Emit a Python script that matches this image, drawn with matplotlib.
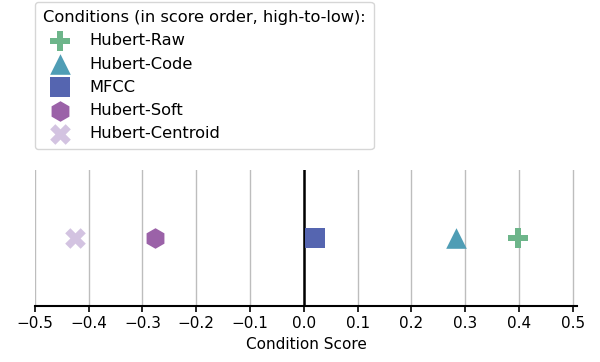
import matplotlib
matplotlib.use("Agg")
import matplotlib.pyplot as plt

# Conditions in score order, high-to-low
conditions = ["Hubert-Raw", "Hubert-Code", "MFCC", "Hubert-Soft", "Hubert-Centroid"]
scores = [0.398, 0.283, 0.021, -0.277, -0.426]
markers = ["P", "^", "s", "h", "X"]
colors = ["#6db58a", "#4f9db5", "#5565b0", "#9b62a8", "#d3c3e1"]
xticks = [-0.5, -0.4, -0.3, -0.2, -0.1, 0.0, 0.1, 0.2, 0.3, 0.4, 0.5]

fig = plt.figure(figsize=(6, 3.62), dpi=100)
ax = fig.add_axes([0.058, 0.155, 0.904, 0.375])

for name, score, m, c in zip(conditions, scores, markers, colors):
    ax.scatter(score, 0, marker=m, s=220, color=c, label=name, zorder=3,
               linewidths=0)

ax.axvline(0, color="black", linewidth=1.8, zorder=2)
ax.set_xlim(-0.5, 0.508)
ax.set_ylim(-1, 1)
ax.set_xticks(xticks)
ax.set_xticklabels([f"{t:.1f}".replace("-", "\u2212") for t in xticks], fontsize=11)
ax.set_xlabel("Condition Score", fontsize=11)
ax.grid(axis="x", color="#bdbdbd", linewidth=1)
ax.set_axisbelow(True)
ax.set_yticks([])
for side in ["left", "right", "top"]:
    ax.spines[side].set_visible(False)
ax.spines["bottom"].set_linewidth(1.5)
ax.tick_params(axis="x", width=1.2, length=4)

fig.legend(loc="upper left", bbox_to_anchor=(0.058, 0.994), borderaxespad=0,
           fontsize=11.7, title="Conditions (in score order, high-to-low):",
           title_fontsize=11.7, alignment="left", handlelength=2.1,
           handletextpad=0.76, labelspacing=0.5, borderpad=0.5)

fig.savefig("out.png", dpi=100)
